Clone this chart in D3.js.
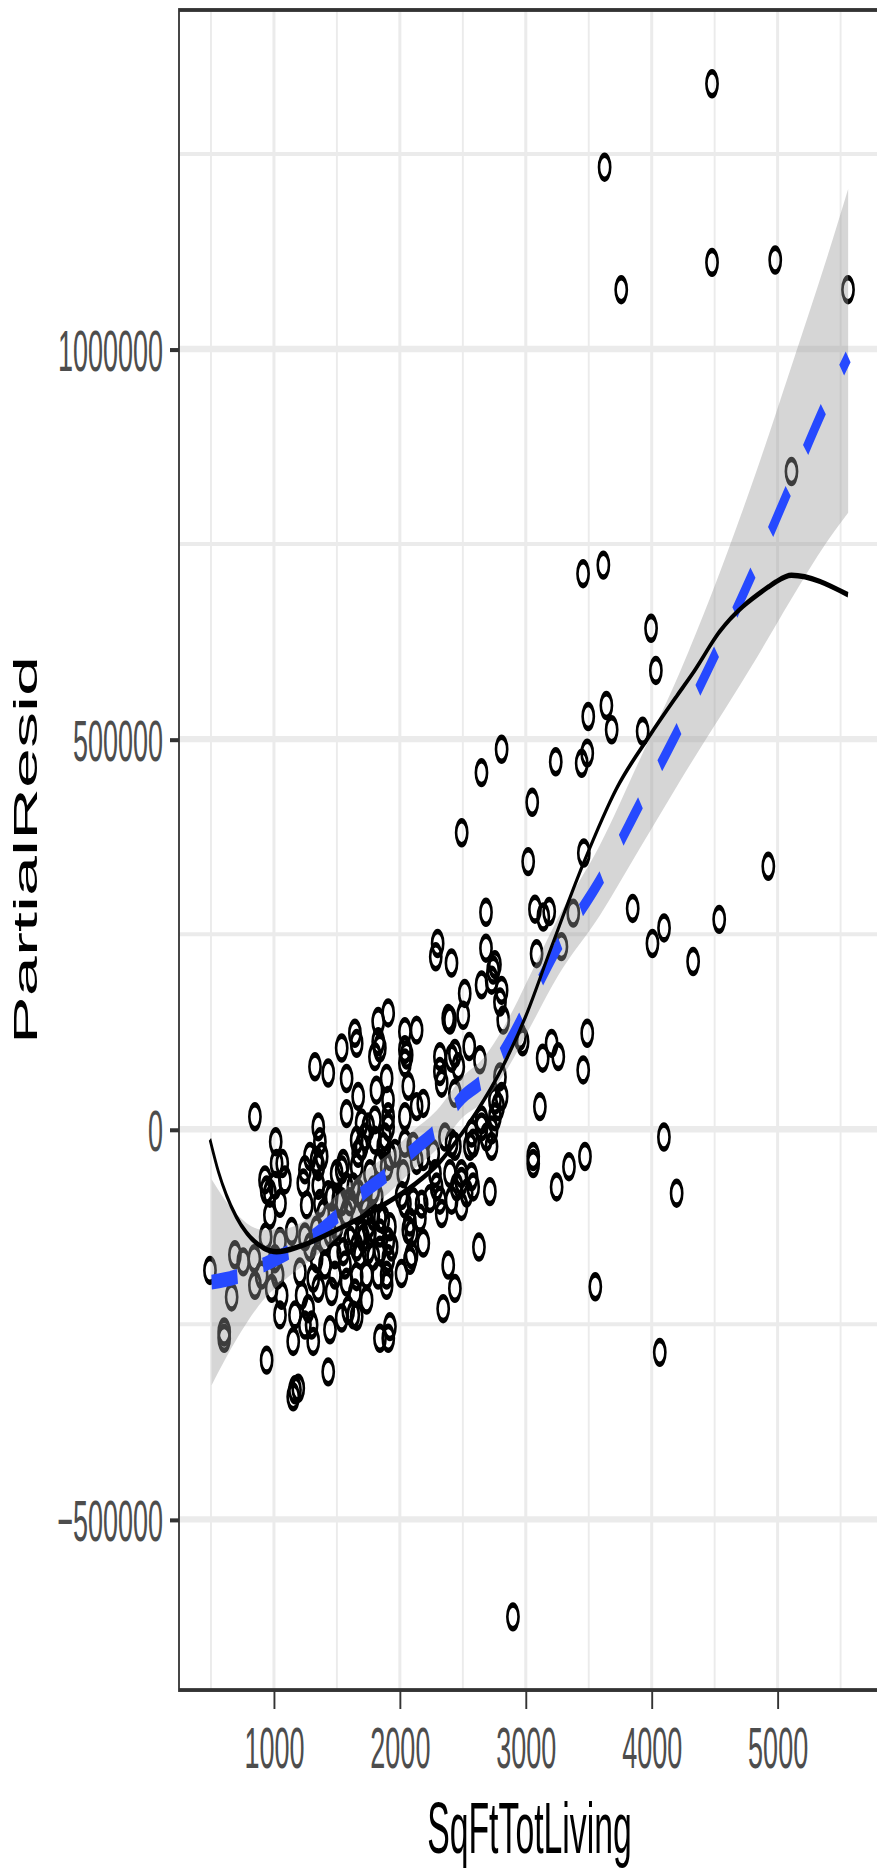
<!DOCTYPE html>
<html><head><meta charset="utf-8">
<script src="https://cdn.jsdelivr.net/npm/d3@7"></script>
<style>html,body{margin:0;padding:0;background:#fff;} svg{display:block;}</style>
</head><body><svg id="chart"></svg>
<script>
// ---------------- data ----------------
const sqFtTotLiving = [
  4479,3626,4479,4981,3758,5559,5110,3455,3616,3995,
  4033,3640,3496,3682,3928,2808,3238,3488,3444,2648,
  3051,2491,3019,3461,4926,
  2684,3073,3139,3186,3377,3849,4536,4098,4006,4329,
  2684,3086,3283,2300,2285,2410,2755,2741,2649,2515,
  2808,2729,2795,2503,2398,2954,2975,2821,3488,3134,
  3205,3258,3456,2551,2636,3112,4097,3059,3059,3343,
  3470,3245,4198,3552,4064,2898,2384,
  849,1014,1021,1066,1326,1431,1538,1577,1643,1657,
  1577,1352,1365,1286,1339,1379,1352,1498,1669,1657,
  1669,1657,929,1233,1907,1828,2040,2133,1828,1841,
  2040,2054,2040,1802,2437,2411,2464,2318,2318,1895,
  2067,2332,1814,1906,2186,2133,2437,2795,2755,2808,
  2780,2755,2649,2040,1907,1907,1802,1749,1696,1722,
  1696,1802,1882,1961,2040,2358,2411,2437,2570,2582,
  2556,2649,2688,2728,2728,2489,2569,2489,2489,2715,
  2318,2332,
  2582,2239,2173,2159,2106,2080,2040,2014,2067,2186,
  2093,2628,2384,2437,2344,2013,1908,1908,1895,1895,
  1828,1736,1736,1657,1842,1908,1921,1842,1749,1709,
  1749,1683,1935,2093,1868,1921,2106,2133,2027,2186,
  2265,2279,2292,2398,2451,2411,2530,1868,1895,1842,
  1921,1762,1789,1816,1669,1709,1630,1577,1538,1550,
  1736,1789,1762,1842,1789,1842,2080,
  492,664,605,605,690,756,844,849,934,942,
  968,1008,1048,968,1141,1087,1260,1352,1431,1048,
  1008,1029,982,1061,902,1048,1167,1153,942,1167,
  1193,1153,1431,1220,1272,1299,1312,1246,1206,1312,
  1352,1458,1445,1538,1630,1339,1405,1484,1577,1550,
  1484,1564,1604,1538,1246,1246,1511,1458,1365,1392,
  1498,1445,1405,1339,1286,1643,1657,1590,1577,1630,
  1696,1604,1657
];
const partialResid = [
  1340000,1233000,1111000,1114000,1076000,1076000,843000,712000,723000,642000,
  588000,543000,529000,512000,510000,487000,471000,482000,469000,457000,
  419000,380000,343000,354000,337000,
  278000,282000,272000,279000,277000,283000,269000,258000,238000,215000,
  232000,225000,234000,238000,221000,213000,211000,204000,185000,174000,
  178000,191000,163000,146000,140000,119000,112000,140000,123000,91000,
  110000,93000,76000,106000,89000,29000,-10000,-35000,-44000,-48000,
  -35000,-74000,-82000,-202000,-286000,-625000,142000,
  16000,-16000,-44000,-44000,80000,72000,104000,65000,123000,110000,
  20000,3000,-16000,-35000,-40000,-35000,-48000,-57000,42000,-14000,
  -31000,-48000,-65000,-69000,149000,138000,125000,127000,112000,104000,
  102000,95000,85000,93000,97000,91000,80000,93000,74000,65000,
  55000,59000,50000,37000,33000,29000,46000,67000,37000,42000,
  29000,16000,12000,16000,16000,3000,12000,3000,8000,-10000,
  -22000,-14000,-10000,-31000,-18000,-10000,-18000,-22000,-5000,-18000,
  -22000,3000,-10000,-1000,-22000,-57000,-61000,-67000,-99000,-80000,
  -91000,-108000,
  -74000,-89000,-96000,-114000,-93000,-119000,-96000,-85000,-129000,-146000,
  -161000,-151000,-174000,-204000,-230000,-185000,-144000,-166000,-187000,-200000,
  -187000,-187000,-219000,-240000,-268000,-268000,-253000,-114000,-123000,-140000,
  -155000,-161000,-151000,-133000,-116000,-125000,-22000,-40000,-57000,-35000,
  -31000,-57000,-74000,-57000,-74000,-91000,-82000,-22000,-48000,-44000,
  -35000,-57000,-78000,-87000,-82000,-91000,-74000,-74000,-52000,-44000,
  -104000,-112000,-133000,-133000,-163000,-155000,-168000,
  -181000,-215000,-260000,-268000,-161000,-170000,-166000,-200000,-138000,-78000,
  -82000,-72000,-95000,-110000,-131000,-65000,-97000,-72000,-84000,-144000,
  -166000,-187000,-204000,-213000,-187000,-238000,-238000,-272000,-296000,-334000,
  -332000,-343000,-311000,-213000,-230000,-251000,-272000,-251000,-183000,-191000,
  -204000,-208000,-257000,-242000,-238000,-166000,-174000,-187000,-196000,-157000,
  -161000,-174000,-93000,-93000,-138000,-52000,-91000,-87000,-95000,-108000,
  -125000,-133000,-142000,-129000,-151000,-210000,-189000,-232000,-108000,-133000,
  -133000,-142000,-151000
];

// loess smooth (dashed blue) and its confidence band
const smoothX  = [505, 704, 915, 1101, 1339, 1498, 1736, 1908, 2106, 2292, 2503, 2662, 2874, 3006, 3257, 3588, 3906, 4224, 4833, 5110, 5388, 5560];
const smoothY  = [-196000,-189000,-174000,-159000,-134000,-112000,-78000,-57000,-27000,-1000,42000,63000,114000,155000,234000,319000,417000,516000,724000,828000,932000,990000];
const smoothLo = [-328000,-269000,-219000,-191000,-162000,-139000,-104000,-82000,-52000,-26000,16000,35000,83000,122000,197000,274000,360000,446000,604000,680000,752000,790000];
const smoothHi = [-64000,-109000,-129000,-127000,-106000,-85000,-52000,-32000,-2000,24000,68000,91000,145000,188000,271000,364000,474000,586000,844000,978000,1115000,1205000];

// fitted spline term (solid black)
const termX = [492, 560, 624, 700, 783, 915, 1021, 1206, 1498, 1816, 2106, 2318, 2450, 2600, 2800, 3000, 3200, 3456, 3722, 3986, 4198, 4329, 4536, 4926, 4981, 5110, 5559];
const termY = [-13000,-55000,-85000,-112000,-133000,-152000,-157000,-150000,-129000,-102000,-72000,-42000,-15000,20000,75000,145000,232000,340000,437000,505000,555000,585000,637000,695000,701000,710000,685000];

const xTicks = [1000, 2000, 3000, 4000, 5000];
const xMinor = [500, 1500, 2500, 3500, 4500, 5500];
const yTicks = [-500000, 0, 500000, 1000000];
const yMinor = [-250000, 250000, 750000, 1250000];
const xTitle = "SqFtTotLiving";
const yTitle = "PartialResid";

// ---------------- layout ----------------
const W = 877, H = 1870, V = 877;           // drawn in a square space, stretched to W x H
const panel = {left: 179, right: 880, top: 4.69, bottom: 792.6};
const font = "'Liberation Sans', Arial, Helvetica, sans-serif";

const svg = d3.select("#chart")
  .attr("width", W).attr("height", H)
  .attr("viewBox", `0 0 ${W} ${V}`)
  .attr("preserveAspectRatio", "none");

const x = d3.scaleLinear().domain([246, 5813]).range([panel.left, panel.right]);
const y = d3.scaleLinear().domain([-718800, 1434500]).range([panel.bottom, panel.top]);

svg.append("rect").attr("x",0).attr("y",0).attr("width",W).attr("height",V).attr("fill","#fff");

svg.append("clipPath").attr("id","clip").append("rect")
  .attr("x", panel.left).attr("y", panel.top)
  .attr("width", panel.right - panel.left).attr("height", panel.bottom - panel.top);

const gp = svg.append("g").attr("clip-path","url(#clip)");

// grid
gp.selectAll(".gxm").data(xMinor).join("line")
  .attr("x1", d=>x(d)).attr("x2", d=>x(d)).attr("y1", panel.top).attr("y2", panel.bottom)
  .attr("stroke","#EBEBEB").attr("stroke-width",1.9);
gp.selectAll(".gym").data(yMinor).join("line")
  .attr("y1", d=>y(d)).attr("y2", d=>y(d)).attr("x1", panel.left).attr("x2", panel.right)
  .attr("stroke","#EBEBEB").attr("stroke-width",1.9);
gp.selectAll(".gx").data(xTicks).join("line")
  .attr("x1", d=>x(d)).attr("x2", d=>x(d)).attr("y1", panel.top).attr("y2", panel.bottom)
  .attr("stroke","#EBEBEB").attr("stroke-width",3);
gp.selectAll(".gy").data(yTicks).join("line")
  .attr("y1", d=>y(d)).attr("y2", d=>y(d)).attr("x1", panel.left).attr("x2", panel.right)
  .attr("stroke","#EBEBEB").attr("stroke-width",3);

// points
const n = Math.min(sqFtTotLiving.length, partialResid.length);
const pts = d3.range(n).map(i => [sqFtTotLiving[i], partialResid[i]]);
gp.selectAll(".pt").data(pts).join("circle")
  .attr("cx", d=>x(d[0])).attr("cy", d=>y(d[1])).attr("r", 5.6)
  .attr("fill","none").attr("stroke","#000").attr("stroke-width",2.6);

// smooth band + dashed line
const sm = d3.range(smoothX.length).map(i => ({x: smoothX[i], y: smoothY[i], lo: smoothLo[i], hi: smoothHi[i]}));
gp.append("path").datum(sm)
  .attr("d", d3.area().x(d=>x(d.x)).y0(d=>y(d.lo)).y1(d=>y(d.hi)).curve(d3.curveMonotoneX))
  .attr("fill","#999999").attr("fill-opacity",0.4);
gp.append("path").datum(sm)
  .attr("d", d3.line().x(d=>x(d.x)).y(d=>y(d.y)).curve(d3.curveMonotoneX))
  .attr("fill","none").attr("stroke","#2649FF").attr("stroke-width",7)
  .attr("stroke-dasharray","26,26");

// fitted term
const tm = d3.range(termX.length).map(i => [termX[i], termY[i]]);
gp.append("path").datum(tm)
  .attr("d", d3.line().x(d=>x(d[0])).y(d=>y(d[1])).curve(d3.curveMonotoneX))
  .attr("fill","none").attr("stroke","#000").attr("stroke-width",2.6);

// panel border
svg.append("rect").attr("x", panel.left).attr("y", panel.top)
  .attr("width", panel.right - panel.left).attr("height", panel.bottom - panel.top)
  .attr("fill","none").attr("stroke","#333333").attr("stroke-width",1.8);

// axes
const yAxis = d3.axisLeft(y).tickValues(yTicks).tickSize(9).tickPadding(7).tickFormat(d3.format("d"));
const gy = svg.append("g").attr("transform", `translate(${panel.left},0)`).call(yAxis);
gy.select(".domain").remove();
gy.selectAll(".tick line").attr("stroke","#333333").attr("stroke-width",1.9);
gy.selectAll(".tick text").attr("fill","#4D4D4D").attr("font-family",font).attr("font-size",27).attr("dy","0.36em");

const xAxis = d3.axisBottom(x).tickValues(xTicks).tickSize(8.9).tickPadding(7).tickFormat(d3.format("d"));
const gx = svg.append("g").attr("transform", `translate(0,${panel.bottom})`).call(xAxis);
gx.select(".domain").remove();
gx.selectAll(".tick line").attr("stroke","#333333").attr("stroke-width",1.9);
gx.selectAll(".tick text").attr("fill","#4D4D4D").attr("font-family",font).attr("font-size",27)
  .attr("dy", null).attr("y", 829.3 - panel.bottom);

// titles
svg.append("text").attr("x", (panel.left + panel.right)/2).attr("y", 869.2)
  .attr("text-anchor","middle").attr("font-family",font).attr("font-size",33.8).attr("fill","#000")
  .text(xTitle);
svg.append("text").attr("transform", `translate(36.5,${(panel.top+panel.bottom)/2}) rotate(-90)`)
  .attr("text-anchor","middle").attr("font-family",font).attr("font-size",33.8).attr("fill","#000")
  .text(yTitle);
</script>
</body></html>
